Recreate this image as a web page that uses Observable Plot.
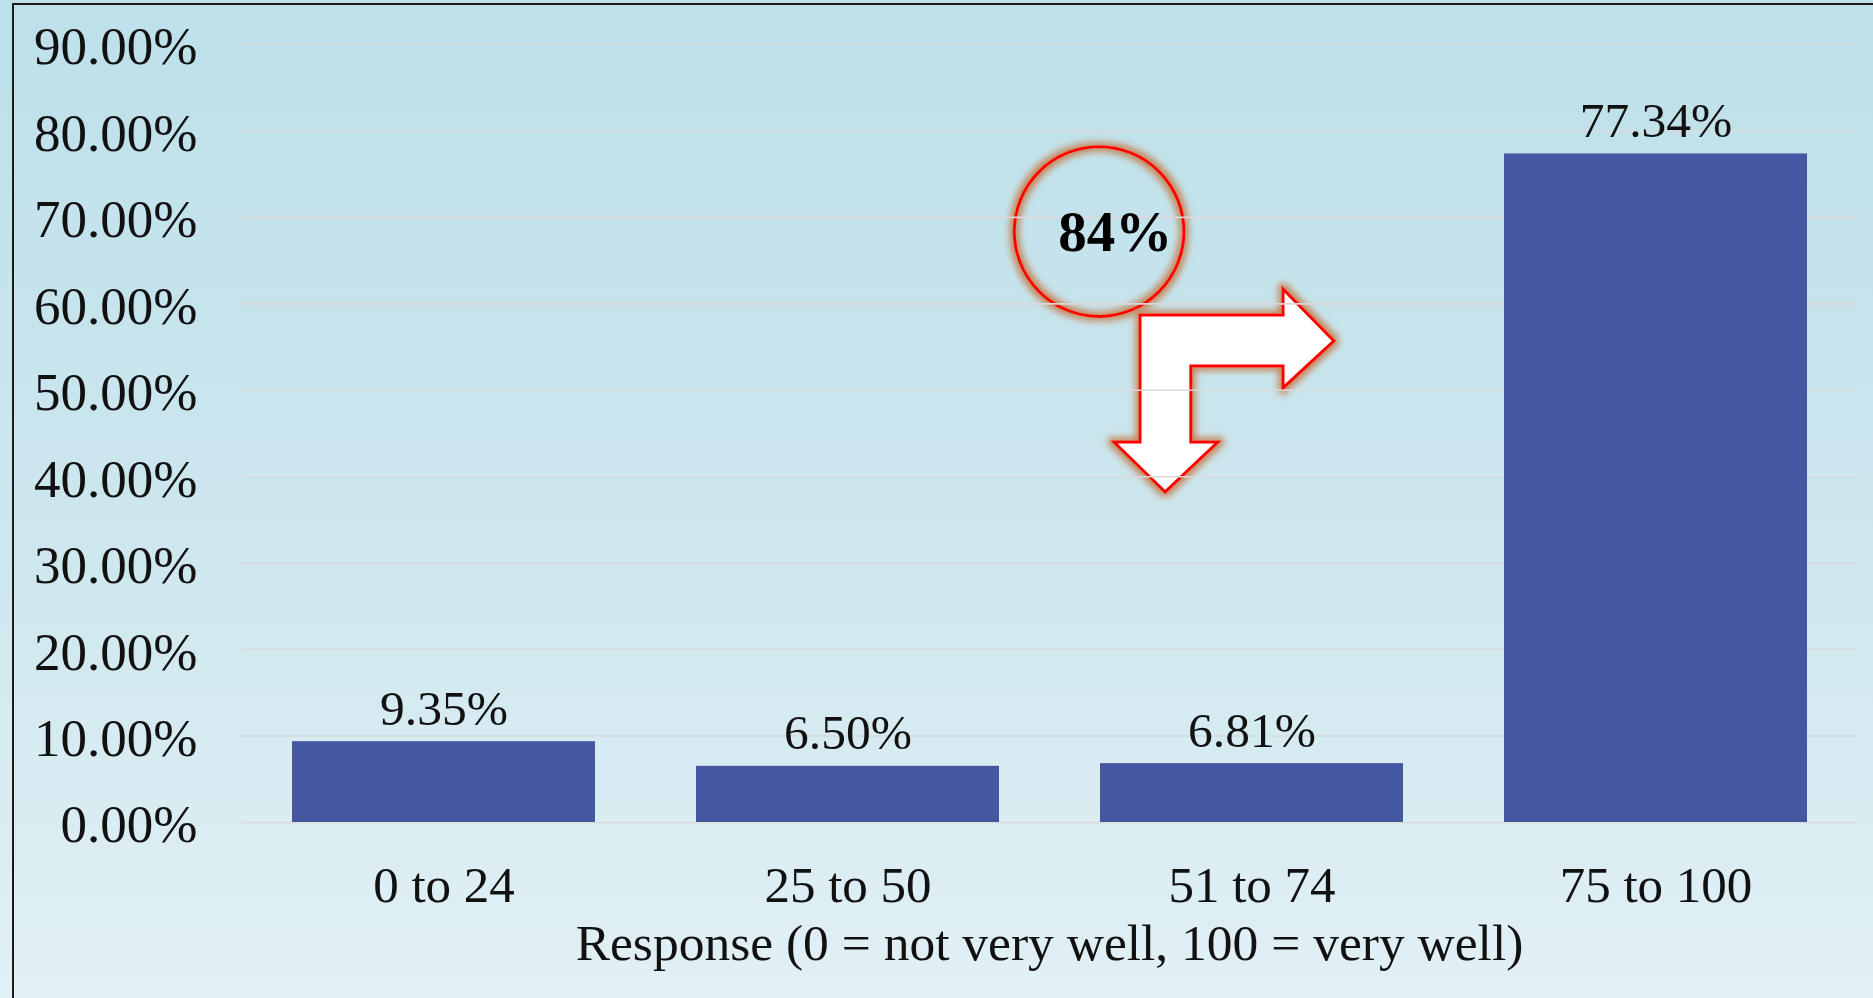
<!DOCTYPE html>
<html><head><meta charset="utf-8">
<script src="https://cdn.jsdelivr.net/npm/d3@7"></script>
<script src="https://cdn.jsdelivr.net/npm/@observablehq/plot@0.6"></script>
<style>
html,body{margin:0;padding:0;width:1873px;height:998px;overflow:hidden;}
body{background:linear-gradient(to bottom,#bde0ea 0%,#cce6ee 50%,#e1f0f5 100%);font-family:"Liberation Serif",serif;}
#chart{position:absolute;left:0;top:0;}
#frame{position:absolute;left:12px;top:3px;width:2000px;height:1100px;border-left:2px solid #1c1c1c;border-top:2px solid #1c1c1c;pointer-events:none;}
</style></head><body>
<div id="chart"></div><div id="frame"></div>
<script>
// ---- data ----
const categories = ["0 to 24", "25 to 50", "51 to 74", "75 to 100"];
const shares = [9.35, 6.50, 6.81, 77.34];
const shareLabels = ["9.35%", "6.50%", "6.81%", "77.34%"];
const yTicks = [0, 10, 20, 30, 40, 50, 60, 70, 80, 90];
const xTitle = "Response (0 = not very well, 100 = very well)";
const calloutText = "84%";
const calloutCategory = "51 to 74";

// annotation geometry: [fraction of bar width from bar start, percent value]
const calloutCircle = {fx: -0.003, y: 68.3, rFrac: 0.28};
const calloutTextPos = {fx: 0.05, y: 66.1};
const arrowShape = [
  [0.132, 58.65], [0.604, 58.65], [0.604, 61.66], [0.772, 55.65],
  [0.604, 50.21], [0.604, 52.75], [0.300, 52.75], [0.300, 43.96],
  [0.389, 43.96], [0.215, 38.18], [0.046, 43.96], [0.132, 43.96]
];

const rows = categories.map((c, i) => ({cat: c, v: shares[i], label: shareLabels[i]}));

const plot = Plot.plot({
  width: 1873,
  height: 998,
  marginLeft: 241,
  marginRight: 16,
  marginTop: 44,
  marginBottom: 176,
  style: {background: "transparent", fontFamily: "'Liberation Serif', serif", color: "#111", overflow: "visible"},
  x: {domain: categories, paddingInner: 0.25, paddingOuter: 0.125},
  y: {domain: [0, 90]},
  marks: [
    Plot.gridY({ticks: yTicks, stroke: "#d9d9d9", strokeOpacity: 1, strokeWidth: 1.6}),
    Plot.barY(rows, {x: "cat", y: "v", fill: "#4557a0"}),
    Plot.text(rows, {x: "cat", y: "v", text: "label", dy: -17, lineAnchor: "bottom", fontSize: 49.5, fill: "#111"}),
    Plot.axisY({ticks: yTicks, tickFormat: d => d.toFixed(2) + "%", tickSize: 0, tickPadding: 44, fontSize: 53, label: null, dy: 3}),
    Plot.axisX({tickSize: 0, tickPadding: 43, fontSize: 51, label: null}),
    Plot.text([xTitle], {frameAnchor: "bottom", text: d => d, dy: 137, lineAnchor: "bottom", fontSize: 51.5, fill: "#111"})
  ]
});

document.getElementById("chart").appendChild(plot);

// ---- callout annotation, positioned through the chart's scales ----
const xs = plot.scale("x");
const ys = plot.scale("y");
const x0 = xs.apply(calloutCategory);
const bw = xs.bandwidth;
const svg = d3.select(plot);
const defs = svg.insert("defs", "style + *");
const f = defs.append("filter").attr("id", "glow").attr("x", "-30%").attr("y", "-30%").attr("width", "160%").attr("height", "160%");
f.append("feMorphology").attr("in", "SourceAlpha").attr("operator", "dilate").attr("radius", 3).attr("result", "d");
f.append("feGaussianBlur").attr("in", "d").attr("stdDeviation", 3.5).attr("result", "b");
f.append("feFlood").attr("flood-color", "#c57a48").attr("flood-opacity", 0.9);
f.append("feComposite").attr("in2", "b").attr("operator", "in").attr("result", "g");
const m = f.append("feMerge");
m.append("feMergeNode").attr("in", "g");
m.append("feMergeNode").attr("in", "SourceGraphic");

const g = svg.insert("g", "defs + *").attr("class", "callout");
g.append("circle")
  .attr("cx", x0 + calloutCircle.fx * bw)
  .attr("cy", ys.apply(calloutCircle.y))
  .attr("r", calloutCircle.rFrac * bw)
  .attr("fill", "none").attr("stroke", "#ff0000").attr("stroke-width", 3)
  .attr("filter", "url(#glow)");
g.append("path")
  .attr("d", "M" + arrowShape.map(([fx, v]) => [x0 + fx * bw, ys.apply(v)].join(",")).join("L") + "Z")
  .attr("fill", "#ffffff").attr("stroke", "#ff0000").attr("stroke-width", 3)
  .attr("stroke-linejoin", "miter")
  .attr("filter", "url(#glow)");
svg.append("text")
  .attr("x", x0 + calloutTextPos.fx * bw)
  .attr("y", ys.apply(calloutTextPos.y))
  .attr("text-anchor", "middle")
  .attr("font-family", "'Liberation Serif', serif")
  .attr("font-weight", "bold")
  .attr("font-size", 57)
  .attr("fill", "#000")
  .text(calloutText);
</script>
</body></html>
